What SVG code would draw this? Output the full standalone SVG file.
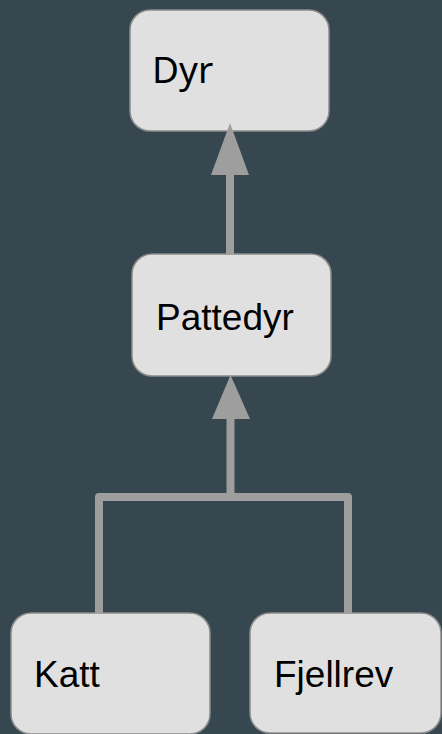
<svg xmlns="http://www.w3.org/2000/svg" width="442" height="734" viewBox="0 0 442 734">
  <style>
    .box { fill: #e0e0e0; stroke: #8c8c8c; stroke-width: 1.5; }
    .label { font-family: "Liberation Sans", Arial, sans-serif; font-size: 37px; fill: #000000; }
    .label.round { font-family: "Noto Sans", "Open Sans", sans-serif; }
    .wire { fill: none; stroke: #9e9e9e; stroke-width: 8; stroke-linejoin: round; }
    .head { fill: #9e9e9e; }
  </style>
  <rect width="442" height="734" fill="#37474f"/>

  <g id="node-dyr">
    <rect class="box" x="130" y="10" width="199" height="121" rx="20"/>
    <text class="label round" x="152" y="83">Dyr</text>
  </g>
  <g id="node-pattedyr">
    <rect class="box" x="132" y="254" width="199" height="122" rx="20"/>
    <text class="label" x="156" y="330">Pattedyr</text>
  </g>
  <g id="node-katt">
    <rect class="box" x="11" y="613" width="199" height="121" rx="20"/>
    <text class="label" x="34" y="687">Katt</text>
  </g>
  <g id="node-fjellrev">
    <rect class="box" x="250" y="613" width="191" height="120" rx="20"/>
    <text class="label" x="274" y="687">Fjellrev</text>
  </g>

  <g id="connectors">
    <!-- Pattedyr -> Dyr -->
    <path class="wire" d="M230,254 V170"/>
    <polygon class="head" points="230,123 211,175 249,175"/>
    <!-- Katt, Fjellrev -> Pattedyr -->
    <path class="wire" d="M99,613 V497 H348 V613"/>
    <path class="wire" d="M230.5,497 V414"/>
    <polygon class="head" points="230.5,375 212,419 250,419"/>
  </g>
</svg>
